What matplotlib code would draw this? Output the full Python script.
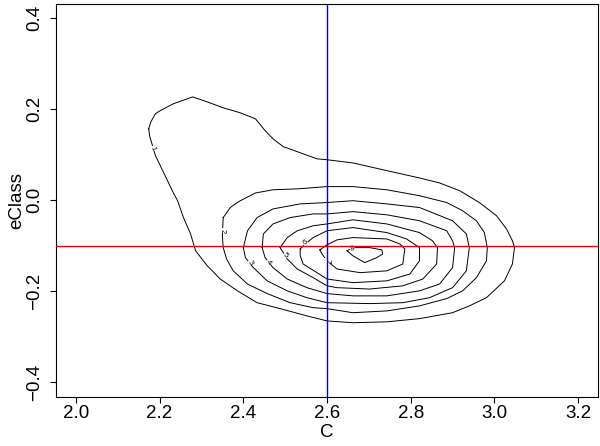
import matplotlib
matplotlib.use('Agg')
import matplotlib.pyplot as plt

plt.rcParams['font.family'] = ['Liberation Sans', 'DejaVu Sans']

# contour levels, (C, eClass) points, outermost first
level1 = [(2.174, 0.157), (2.179, 0.172), (2.190, 0.190), (2.202, 0.197), (2.233, 0.212),
          (2.279, 0.227), (2.314, 0.216), (2.352, 0.203), (2.393, 0.192), (2.429, 0.179),
          (2.452, 0.153), (2.471, 0.135), (2.495, 0.118), (2.543, 0.102), (2.576, 0.091),
          (2.600, 0.089), (2.662, 0.082), (2.743, 0.065), (2.821, 0.049), (2.869, 0.038),
          (2.917, 0.021), (2.964, -0.005), (3.005, -0.034), (3.029, -0.063), (3.043, -0.089),
          (3.048, -0.104), (3.043, -0.140), (3.024, -0.177), (2.981, -0.214), (2.940, -0.232),
          (2.900, -0.247), (2.821, -0.260), (2.743, -0.267), (2.662, -0.269), (2.600, -0.265),
          (2.552, -0.254), (2.488, -0.238), (2.433, -0.225), (2.386, -0.199), (2.345, -0.173),
          (2.314, -0.144), (2.286, -0.111), (2.274, -0.074), (2.257, -0.038), (2.243, -0.001),
          (2.233, 0.016), (2.210, 0.060), (2.190, 0.098), (2.176, 0.142)]
level2 = [(2.352, -0.038), (2.369, -0.016), (2.381, -0.008), (2.393, -0.001), (2.429, 0.016),
          (2.471, 0.023), (2.529, 0.025), (2.600, 0.030), (2.662, 0.030), (2.743, 0.023),
          (2.821, 0.010), (2.886, -0.005), (2.924, -0.023), (2.957, -0.045), (2.976, -0.071),
          (2.983, -0.104), (2.981, -0.133), (2.957, -0.170), (2.924, -0.199), (2.886, -0.216),
          (2.821, -0.232), (2.743, -0.243), (2.662, -0.247), (2.600, -0.238), (2.567, -0.236),
          (2.512, -0.225), (2.457, -0.205), (2.410, -0.184), (2.376, -0.155), (2.360, -0.129),
          (2.352, -0.104), (2.350, -0.078)]
level3 = [(2.400, -0.104), (2.410, -0.067), (2.433, -0.038), (2.471, -0.019), (2.536, -0.008),
          (2.600, -0.005), (2.662, -0.001), (2.743, -0.008), (2.821, -0.016), (2.900, -0.045),
          (2.933, -0.074), (2.940, -0.104), (2.933, -0.155), (2.900, -0.192), (2.845, -0.214),
          (2.781, -0.225), (2.702, -0.227), (2.600, -0.225), (2.552, -0.214), (2.505, -0.199),
          (2.457, -0.177), (2.424, -0.148), (2.405, -0.126)]
level4 = [(2.445, -0.104), (2.448, -0.074), (2.471, -0.052), (2.512, -0.038), (2.567, -0.030),
          (2.600, -0.030), (2.662, -0.025), (2.743, -0.032), (2.821, -0.045), (2.886, -0.067),
          (2.900, -0.089), (2.905, -0.104), (2.900, -0.148), (2.869, -0.184), (2.821, -0.199),
          (2.743, -0.210), (2.662, -0.210), (2.600, -0.205), (2.552, -0.192), (2.505, -0.173),
          (2.471, -0.148), (2.452, -0.126)]
level5 = [(2.488, -0.104), (2.505, -0.082), (2.529, -0.067), (2.567, -0.056), (2.600, -0.052),
          (2.662, -0.043), (2.743, -0.052), (2.821, -0.071), (2.852, -0.089), (2.864, -0.104),
          (2.862, -0.140), (2.829, -0.173), (2.781, -0.188), (2.702, -0.195), (2.624, -0.192),
          (2.600, -0.188), (2.567, -0.170), (2.529, -0.151), (2.505, -0.129)]
level6 = [(2.536, -0.107), (2.548, -0.096), (2.567, -0.082), (2.600, -0.067), (2.662, -0.060),
          (2.743, -0.071), (2.790, -0.085), (2.821, -0.104), (2.821, -0.133), (2.798, -0.162),
          (2.743, -0.177), (2.662, -0.181), (2.600, -0.173), (2.576, -0.159), (2.543, -0.140),
          (2.536, -0.122)]
level7 = [(2.583, -0.109), (2.600, -0.098), (2.624, -0.087), (2.662, -0.082), (2.743, -0.085),
          (2.774, -0.096), (2.786, -0.107), (2.781, -0.140), (2.743, -0.155), (2.679, -0.159),
          (2.624, -0.151), (2.600, -0.133), (2.588, -0.118)]
level8 = [(2.648, -0.111), (2.662, -0.104), (2.702, -0.104), (2.731, -0.109), (2.733, -0.118),
          (2.719, -0.126), (2.690, -0.137), (2.662, -0.122)]
levels = [level1, level2, level3, level4, level5, level6, level7, level8]

# contour labels: text, position, rotation
label_text = ['1', '2', '3', '4', '5', '6', '7', '8']
label_pos = [(2.183, 0.113), (2.350, -0.067), (2.417, -0.137), (2.460, -0.137),
             (2.500, -0.122), (2.548, -0.094), (2.600, -0.133), (2.660, -0.106)]
label_rot = [-70, -90, -55, -50, -45, 35, -90, 15]

v_line = 2.6
h_line = -0.1
xticks = [2.0, 2.2, 2.4, 2.6, 2.8, 3.0, 3.2]
yticks = [-0.4, -0.2, 0.0, 0.2, 0.4]


def main():
    fig = plt.figure(figsize=(6, 4.46), dpi=100)
    ax = fig.add_axes([0.093, 0.110, 0.904, 0.882])

    for pts in levels:
        xs = [p[0] for p in pts] + [pts[0][0]]
        ys = [p[1] for p in pts] + [pts[0][1]]
        ax.plot(xs, ys, color='black', lw=0.7, zorder=2)

    for t, (x, y), r in zip(label_text, label_pos, label_rot):
        ax.text(x, y, t, fontsize=5.5, rotation=r, ha='center', va='center', zorder=3,
                bbox=dict(boxstyle='square,pad=0.05', fc='white', ec='none'))

    ax.axvline(v_line, color='#0000ff', lw=1.0, zorder=4)
    ax.axhline(h_line, color='#e00000', lw=1.0, zorder=4)

    ax.set_xlim(1.952, 3.248)
    ax.set_ylim(-0.432, 0.432)
    ax.set_xticks(xticks)
    ax.set_xticklabels(['%.1f' % v for v in xticks])
    ax.set_yticks(yticks)
    ax.set_yticklabels([('%.1f' % v).replace('-', '\u2212') for v in yticks],
                       rotation=90, va='center')
    ax.tick_params(axis='both', labelsize=13.5, length=4, width=0.8, direction='out')
    ax.tick_params(axis='x', pad=2)
    ax.tick_params(axis='y', pad=5)
    for s in ax.spines.values():
        s.set_linewidth(0.8)
    ax.set_xlabel('C', fontsize=13.5, labelpad=1)
    ax.set_ylabel('eClass', fontsize=13.5, labelpad=1)

    plt.savefig('out.png', dpi=100)


if __name__ == '__main__':
    main()
